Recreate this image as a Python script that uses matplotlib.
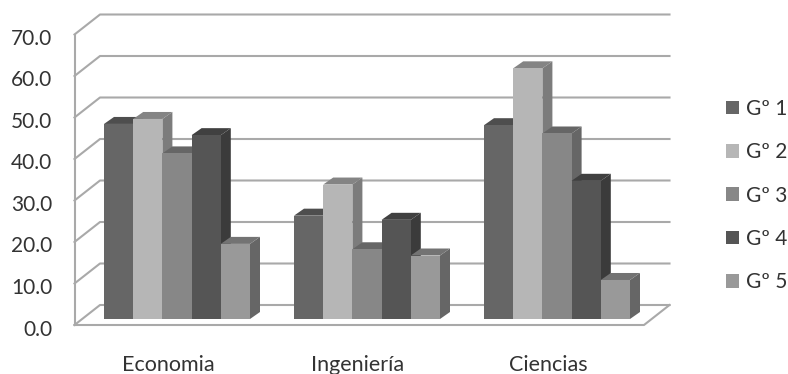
import matplotlib
matplotlib.use("Agg")
import matplotlib.pyplot as plt
from matplotlib.patches import Polygon, Patch

plt.rcParams['font.family'] = ['Lato', 'DejaVu Sans']

categories = ["Economia", "Ingeniería", "Ciencias"]
series_names = ["Gº 1", "Gº 2", "Gº 3", "Gº 4", "Gº 5"]
g1 = [47.0, 24.9, 46.7]
g2 = [48.2, 32.4, 60.4]
g3 = [39.9, 16.8, 44.7]
g4 = [44.3, 23.9, 33.3]
g5 = [18.1, 15.3, 9.4]
series = [g1, g2, g3, g4, g5]
y_ticks = [0, 10, 20, 30, 40, 50, 60, 70]

# front, top, side
front_colors = ['#666666', '#b6b6b6', '#878787', '#555555', '#999999']
top_colors = ['#4e4e4e', '#848484', '#666666', '#404040', '#737373']
side_colors = ['#4e4e4e', '#7c7c7c', '#666666', '#3b3b3b', '#666666']
grid_color = '#a9a9a9'
text_color = '#333333'

W, H = 788, 374
PX_X = 190.0     # pixels per category
PX_Y = 4.15      # pixels per value unit
X0, Y0 = 177.0, 319.0   # where category 0 / value 0 land

fig = plt.figure(figsize=(W / 100, H / 100), dpi=100)
ax = fig.add_axes([0, 0, 1, 1])
ax.set_xlim(-X0 / PX_X, (W - X0) / PX_X)
ax.set_ylim(-(H - Y0) / PX_Y, Y0 / PX_Y)
ax.axis('off')

bar_w = 29.2 / PX_X
depth_x = 10 / PX_X
depth_y = 7 / PX_Y

# walls of the fake 3d box
wall_left = -102.5 / PX_X
wall_right = 467 / PX_X
wall_dx = 25.5 / PX_X
wall_dy = 20 / PX_Y
floor = -6 / PX_Y

for v in y_ticks:
    y = floor + v
    ax.plot([wall_left, wall_left + wall_dx, wall_right + wall_dx],
            [y, y + wall_dy, y + wall_dy], color=grid_color, lw=1.5, zorder=1)
    ax.text(wall_left - 22 / PX_X, y - 4.5 / PX_Y, f"{v:.1f}", ha='right', va='center',
            fontsize=15, color=text_color)
ax.plot([wall_left, wall_left], [floor, floor + y_ticks[-1]], color=grid_color, lw=1.5, zorder=1)
ax.plot([wall_left, wall_right, wall_right + wall_dx],
        [floor, floor, floor + wall_dy], color=grid_color, lw=1.5, zorder=1)

z = 2
for c in range(len(categories)):
    for s in range(len(series)):
        v = series[s][c]
        x = c + (s - 2.5) * bar_w
        x1 = x + bar_w
        ax.add_patch(Polygon([(x1, 0), (x1 + depth_x, depth_y), (x1 + depth_x, v + depth_y), (x1, v)],
                             facecolor=side_colors[s], edgecolor='none', zorder=z))
        ax.add_patch(Polygon([(x, v), (x + depth_x, v + depth_y), (x1 + depth_x, v + depth_y), (x1, v)],
                             facecolor=top_colors[s], edgecolor='none', zorder=z))
        ax.bar(x, v, width=bar_w, align='edge', color=front_colors[s], zorder=z + 0.5)
        z += 1
    ax.text(c - 9 / PX_X, -46 / PX_Y, categories[c], ha='center', va='center',
            fontsize=15.5, color=text_color)

handles = [Patch(facecolor=front_colors[i], edgecolor='none', label=series_names[i]) for i in range(5)]
fig.legend(handles=handles, loc='center left', bbox_to_anchor=(726 / W, 1 - 195.5 / H), frameon=False,
           fontsize=15, labelcolor=text_color, handlelength=0.62, handleheight=0.62,
           handletextpad=0.35, labelspacing=1.12, borderpad=0, borderaxespad=0)

fig.savefig('out.png', dpi=100)
